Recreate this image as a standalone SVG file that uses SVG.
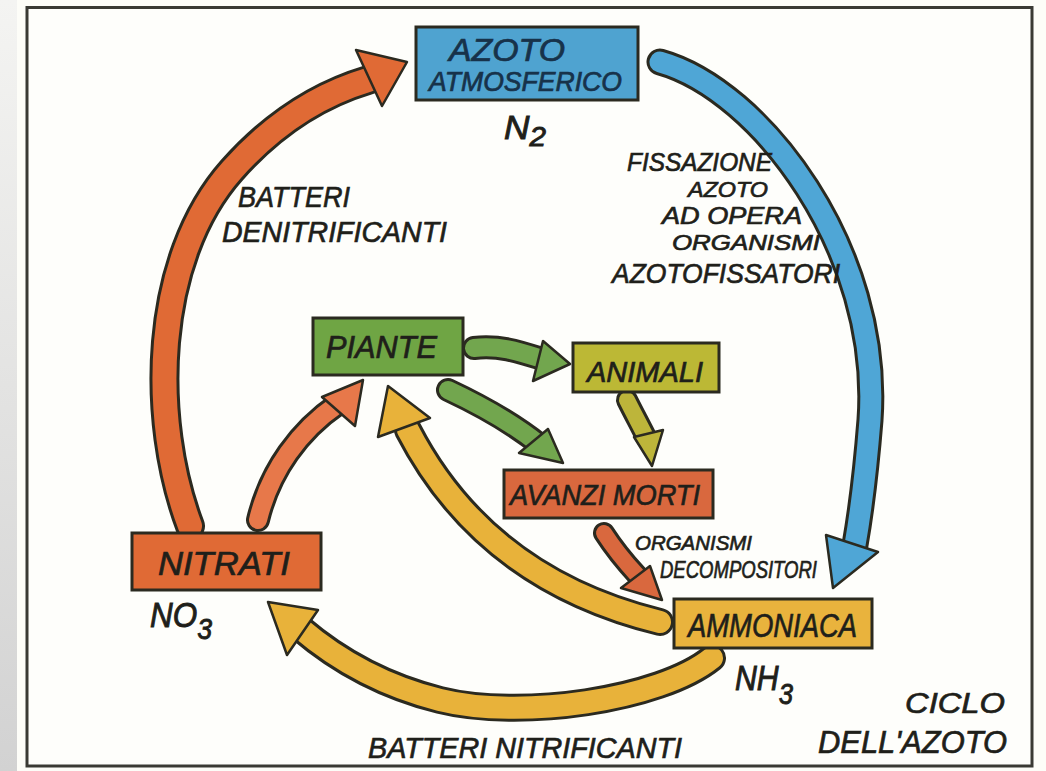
<svg xmlns="http://www.w3.org/2000/svg" width="1046" height="771" viewBox="0 0 1046 771">
<defs>
<linearGradient id="strip" x1="0" y1="0" x2="0" y2="1">
<stop offset="0" stop-color="#f4f4f2"/>
<stop offset="1" stop-color="#d2d2d2"/>
</linearGradient>
<style>
.lbl{font-family:"Liberation Sans",Arial,sans-serif;font-style:italic;fill:#1f1f1a;stroke:#1f1f1a;stroke-width:0.7;}
.box{stroke:#2b2a20;stroke-width:3;}
.out{fill:none;stroke:#2b2a20;stroke-linecap:round;}
.head{stroke:#2b2a20;stroke-width:2.5;stroke-linejoin:round;}
</style>
</defs>
<rect x="0" y="0" width="1046" height="771" fill="#fdfdf8"/>
<rect x="0" y="0" width="17" height="771" fill="url(#strip)"/>
<rect x="27" y="7.5" width="1005" height="758.5" fill="#fefefb" stroke="#3a3a34" stroke-width="3"/>

<g id="connectors">
<g id="c-nitrati-azoto">
<path class="out" stroke-width="30" d="M 190 526 C 150 420, 152 260, 232 170 C 272 125, 318 95, 368 80"/>
<path fill="none" stroke="#e06a35" stroke-width="24" stroke-linecap="round" d="M 190 526 C 150 420, 152 260, 232 170 C 272 125, 318 95, 368 80"/>
<polygon class="head" fill="#e06a35" points="407,62 356,50 382,106"/>
</g>
<g id="c-azoto-ammoniaca">
<path class="out" stroke-width="27" d="M 660 62 C 760 90, 882 250, 870 420 C 866 470, 862 505, 855 545"/>
<path fill="none" stroke="#4fa6d6" stroke-width="21" stroke-linecap="round" d="M 660 62 C 760 90, 882 250, 870 420 C 866 470, 862 505, 855 545"/>
<polygon class="head" fill="#4fa6d6" points="833,588 826,535 878,552"/>
</g>
<g id="c-nitrati-piante">
<path class="out" stroke-width="24" d="M 258 520 C 270 470, 300 430, 338 404"/>
<path fill="none" stroke="#e7784a" stroke-width="18" stroke-linecap="round" d="M 258 520 C 270 470, 300 430, 338 404"/>
<polygon class="head" fill="#e7784a" points="363,380 322,397 355,426"/>
</g>
<g id="c-ammoniaca-piante">
<path class="out" stroke-width="28" d="M 660 622 C 570 600, 470 550, 408 430"/>
<path fill="none" stroke="#e8b23a" stroke-width="22" stroke-linecap="round" d="M 660 622 C 570 600, 470 550, 408 430"/>
<polygon class="head" fill="#e8b23a" points="388,386 378,437 430,418"/>
</g>
<g id="c-ammoniaca-nitrati">
<path class="out" stroke-width="28" d="M 712 658 C 660 700, 520 720, 440 700 C 380 685, 335 658, 300 628"/>
<path fill="none" stroke="#e8b23a" stroke-width="22" stroke-linecap="round" d="M 712 658 C 660 700, 520 720, 440 700 C 380 685, 335 658, 300 628"/>
<polygon class="head" fill="#e8b23a" points="268,602 318,610 287,655"/>
</g>
<g id="c-piante-animali">
<path class="out" stroke-width="24" d="M 474 348 C 500 345, 520 352, 542 359"/>
<path fill="none" stroke="#72a64e" stroke-width="18" stroke-linecap="round" d="M 474 348 C 500 345, 520 352, 542 359"/>
<polygon class="head" fill="#72a64e" points="570,364 543,341 533,381"/>
</g>
<g id="c-piante-avanzi">
<path class="out" stroke-width="24" d="M 448 390 C 480 405, 515 425, 540 445"/>
<path fill="none" stroke="#72a64e" stroke-width="18" stroke-linecap="round" d="M 448 390 C 480 405, 515 425, 540 445"/>
<polygon class="head" fill="#72a64e" points="563,463 548,429 519,453"/>
</g>
<g id="c-animali-avanzi">
<path class="out" stroke-width="22" d="M 627 400 C 634 414, 640 425, 646 437"/>
<path fill="none" stroke="#bdb53a" stroke-width="16" stroke-linecap="round" d="M 627 400 C 634 414, 640 425, 646 437"/>
<polygon class="head" fill="#bdb53a" points="652,466 634,437 663,430"/>
</g>
<g id="c-avanzi-ammoniaca">
<path class="out" stroke-width="22" d="M 604 533 C 615 550, 625 562, 637 575"/>
<path fill="none" stroke="#d9683e" stroke-width="16" stroke-linecap="round" d="M 604 533 C 615 550, 625 562, 637 575"/>
<polygon class="head" fill="#d9683e" points="662,600 621,588 650,566"/>
</g>
</g>

<g id="node-azoto">
<rect class="box" x="416" y="27" width="222" height="73" fill="#4fa3d0"/>
<text class="lbl" x="449" y="61" font-size="31" textLength="116" lengthAdjust="spacingAndGlyphs" style="fill:#17324a;stroke:#17324a">AZOTO</text>
<text class="lbl" x="429" y="91" font-size="27" textLength="193" lengthAdjust="spacingAndGlyphs" style="fill:#17324a;stroke:#17324a">ATMOSFERICO</text>
<text class="lbl" transform="translate(504,139) scale(1,1.35)" x="0" y="0" font-size="25" textLength="42" lengthAdjust="spacingAndGlyphs">N<tspan font-size="21" dy="5">2</tspan></text>
</g>

<g id="node-piante">
<rect class="box" x="313" y="318" width="150" height="57" fill="#6fa544"/>
<text class="lbl" x="326" y="358" font-size="31" textLength="111" lengthAdjust="spacingAndGlyphs">PIANTE</text>
</g>

<g id="node-animali">
<rect class="box" x="573" y="343" width="146" height="49" fill="#bcb835"/>
<text class="lbl" x="587" y="382" font-size="29" textLength="116" lengthAdjust="spacingAndGlyphs">ANIMALI</text>
</g>

<g id="node-avanzi">
<rect class="box" x="504" y="470" width="209" height="48" fill="#d9683e"/>
<text class="lbl" x="510" y="505" font-size="30" textLength="190" lengthAdjust="spacingAndGlyphs">AVANZI MORTI</text>
</g>

<g id="node-nitrati">
<rect class="box" x="132" y="533" width="189" height="57" fill="#e06a35"/>
<text class="lbl" x="158" y="575" font-size="33" textLength="132" lengthAdjust="spacingAndGlyphs">NITRATI</text>
<text class="lbl" transform="translate(150,627) scale(1,1.35)" x="0" y="0" font-size="26" textLength="62" lengthAdjust="spacingAndGlyphs">NO<tspan font-size="22" dy="9">3</tspan></text>
</g>

<g id="node-ammoniaca">
<rect class="box" x="674" y="599" width="198" height="49" fill="#e9b33d"/>
<text class="lbl" x="688" y="637" font-size="34" textLength="169" lengthAdjust="spacingAndGlyphs">AMMONIACA</text>
<text class="lbl" transform="translate(735,690) scale(1,1.35)" x="0" y="0" font-size="26" textLength="58" lengthAdjust="spacingAndGlyphs">NH<tspan font-size="22" dy="10">3</tspan></text>
</g>

<g id="labels">
<text class="lbl" x="238" y="207" font-size="30" textLength="112" lengthAdjust="spacingAndGlyphs">BATTERI</text>
<text class="lbl" x="222" y="242" font-size="30" textLength="225" lengthAdjust="spacingAndGlyphs">DENITRIFICANTI</text>
<text class="lbl" x="627" y="171" font-size="26" textLength="145" lengthAdjust="spacingAndGlyphs">FISSAZIONE</text>
<text class="lbl" x="688" y="197" font-size="22" textLength="80" lengthAdjust="spacingAndGlyphs">AZOTO</text>
<text class="lbl" x="662" y="224" font-size="24" textLength="140" lengthAdjust="spacingAndGlyphs">AD OPERA</text>
<text class="lbl" x="672" y="250" font-size="22" textLength="148" lengthAdjust="spacingAndGlyphs">ORGANISMI</text>
<text class="lbl" x="612" y="283" font-size="28" textLength="228" lengthAdjust="spacingAndGlyphs">AZOTOFISSATORI</text>
<text class="lbl" x="635" y="550" font-size="21" textLength="117" lengthAdjust="spacingAndGlyphs">ORGANISMI</text>
<text class="lbl" x="660" y="578" font-size="24" textLength="157" lengthAdjust="spacingAndGlyphs">DECOMPOSITORI</text>
<text class="lbl" x="368" y="758" font-size="30" textLength="314" lengthAdjust="spacingAndGlyphs">BATTERI NITRIFICANTI</text>
<text class="lbl" x="905" y="713" font-size="30" textLength="100" lengthAdjust="spacingAndGlyphs">CICLO</text>
<text class="lbl" x="818" y="753" font-size="31" textLength="189" lengthAdjust="spacingAndGlyphs">DELL'AZOTO</text>
</g>
</svg>
